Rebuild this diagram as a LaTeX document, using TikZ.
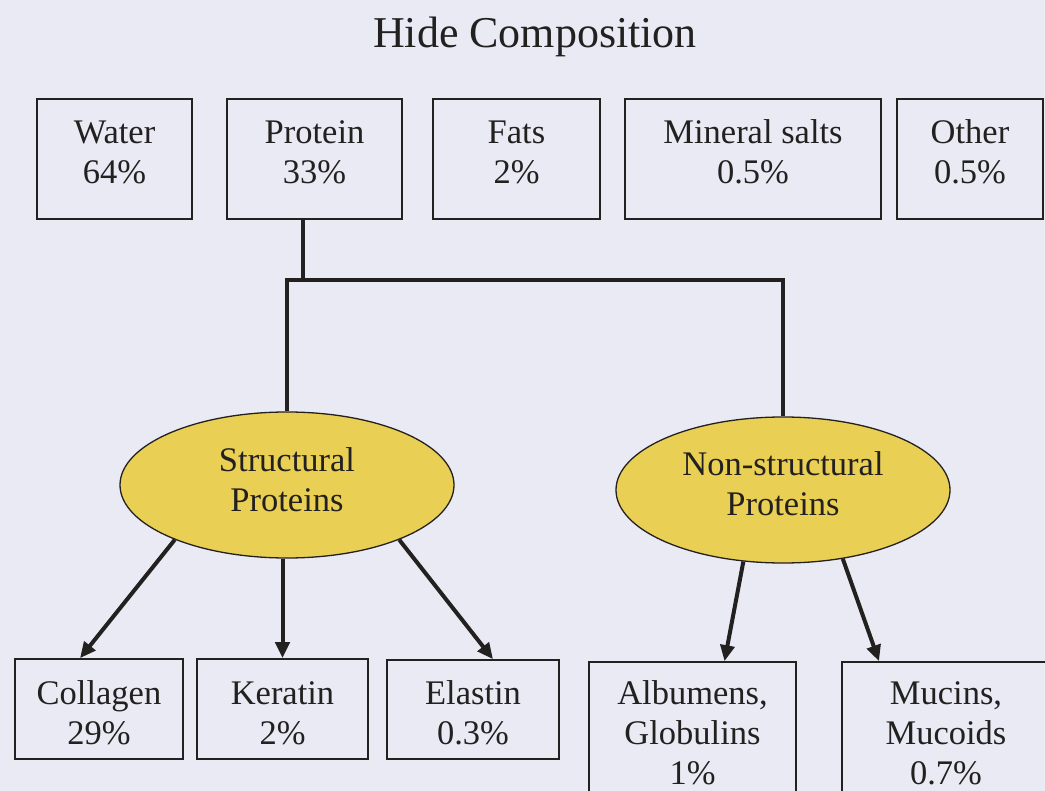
\documentclass[tikz,border=0pt]{standalone}
\usepackage{fontspec}
\setmainfont{Liberation Serif}
\usetikzlibrary{shapes.geometric,arrows.meta}
\definecolor{bg}{RGB}{233,234,244}
\definecolor{ink}{RGB}{35,32,32}
\definecolor{yel}{RGB}{233,207,84}
\begin{document}
\begin{tikzpicture}[x=1pt,y=-1pt,
  txt/.style={text=ink,align=center,font=\fontsize{34.5}{40}\selectfont,inner sep=0pt},
  box/.style={draw=ink,line width=1.6pt,inner sep=0pt},
  oval/.style={ellipse,draw=ink,line width=1.3pt,fill=yel,inner sep=0pt,minimum width=334pt,minimum height=146pt},
  conn/.style={draw=ink,line width=4pt},
  arr/.style={conn,-{Triangle[length=16pt,width=14pt]}}]
\useasboundingbox (0,0) rectangle (1045,791);
\fill[bg] (0,0) rectangle (1045,791);
\clip (0,0) rectangle (1045,791);

\node[text=ink,font=\fontsize{44}{50}\selectfont,anchor=base] (title) at (535,48) {Hide Composition};

% top row
\node[box,minimum width=155pt,minimum height=120pt] (water) at (114.5,159) {};
\node[box,minimum width=175pt,minimum height=120pt] (protein) at (314.5,159) {};
\node[box,minimum width=167pt,minimum height=120pt] (fats) at (516.5,159) {};
\node[box,minimum width=256pt,minimum height=120pt] (mineral) at (753,159) {};
\node[box,minimum width=146pt,minimum height=120pt] (other) at (970,159) {};
\node[txt] (water-t) at (114.5,152) {Water\\64\%};
\node[txt] (protein-t) at (314.5,152) {Protein\\33\%};
\node[txt] (fats-t) at (516.5,152) {Fats\\2\%};
\node[txt] (mineral-t) at (753,152) {Mineral salts\\0.5\%};
\node[txt] (other-t) at (970,152) {Other\\0.5\%};

% ellipses
\node[oval] (sp) at (287,485) {};
\node[oval] (np) at (783,490) {};
\node[txt] (sp-t) at (287,480) {Structural\\Proteins};
\node[txt] (np-t) at (783,484) {Non-structural\\Proteins};

% bottom row
\node[box,minimum width=168pt,minimum height=100pt] (collagen) at (99,709) {};
\node[box,minimum width=171pt,minimum height=100pt] (keratin) at (282.5,709) {};
\node[box,minimum width=172pt,minimum height=99pt] (elastin) at (473,709.5) {};
\node[box,minimum width=207pt,minimum height=142pt] (albumens) at (692.5,733) {};
\node[box,minimum width=208pt,minimum height=142pt] (mucins) at (946,733) {};
\node[txt] (collagen-t) at (99,713) {Collagen\\29\%};
\node[txt] (keratin-t) at (282.5,713) {Keratin\\2\%};
\node[txt] (elastin-t) at (473,713) {Elastin\\0.3\%};
\node[txt] (albumens-t) at (692.5,733) {Albumens,\\Globulins\\1\%};
\node[txt] (mucins-t) at (946,733) {Mucins,\\Mucoids\\0.7\%};

% tree connectors
\coordinate (j) at (303,280);
\draw[conn] (protein.south -| j) -- (j);
\draw[conn,line join=miter] (sp.north) -- (sp.north |- j) -- (np.north |- j) -- (np.north);

% arrows
\draw[arr] (sp.206) -- ([xshift=-19pt]collagen.north);
\draw[arr] (keratin.north |- sp.south) -- (keratin.north);
\draw[arr] (sp.334) -- ([xshift=20pt]elastin.north);
\draw[arr] (np.241) -- ([xshift=32pt]albumens.north);
\draw[arr] (np.311) -- ([xshift=-67pt]mucins.north);
\end{tikzpicture}
\end{document}
